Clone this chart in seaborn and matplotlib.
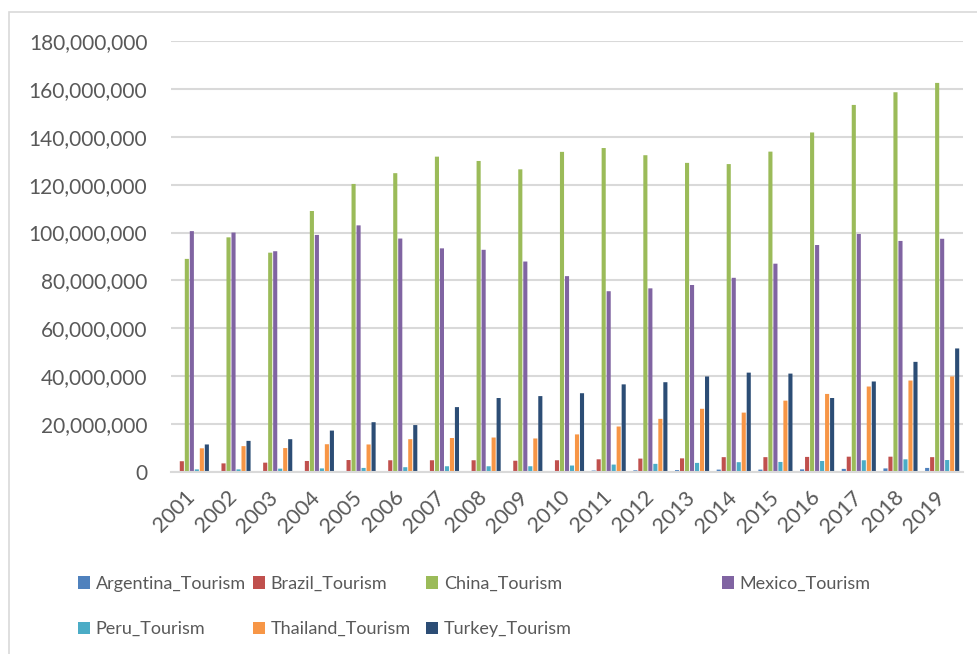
import numpy as np
import pandas as pd
import seaborn as sns
import matplotlib.pyplot as plt
from matplotlib.patches import Rectangle
from matplotlib.ticker import FuncFormatter, MultipleLocator

# Data (millions of arrivals)
years = [str(y) for y in range(2001, 2020)]
argentina = [0.1, 0.1, 0.1, 0.2, 0.3, 0.3, 0.4, 0.4, 0.4, 0.3, 0.6, 0.7, 0.8, 1.0, 1.0, 1.1, 1.3, 1.5, 1.7]
brazil = [4.5, 3.6, 3.9, 4.6, 5.0, 4.9, 4.9, 4.9, 4.7, 4.9, 5.3, 5.6, 5.7, 6.2, 6.2, 6.3, 6.4, 6.4, 6.2]
china = [89.0, 98.0, 91.6, 109.0, 120.3, 124.8, 131.7, 129.9, 126.4, 133.7, 135.3, 132.3, 129.1, 128.6, 133.8, 141.8, 153.3, 158.6, 162.5]
mexico = [100.6, 100.0, 92.2, 99.0, 103.0, 97.5, 93.4, 92.8, 87.9, 81.8, 75.5, 76.7, 78.1, 81.1, 87.0, 94.8, 99.4, 96.5, 97.4]
peru = [1.1, 1.1, 1.4, 1.5, 1.7, 2.0, 2.4, 2.4, 2.4, 2.7, 3.1, 3.4, 3.8, 4.1, 4.2, 4.6, 4.9, 5.3, 5.0]
thailand = [9.9, 10.8, 10.0, 11.6, 11.5, 13.7, 14.2, 14.4, 14.0, 15.7, 19.0, 22.2, 26.4, 24.8, 29.8, 32.6, 35.7, 38.2, 39.9]
turkey = [11.5, 13.0, 13.7, 17.3, 20.8, 19.6, 27.1, 30.9, 31.7, 32.9, 36.6, 37.5, 39.9, 41.5, 41.1, 30.9, 37.8, 46.0, 51.6]

series_names = ["Argentina_Tourism", "Brazil_Tourism", "China_Tourism", "Mexico_Tourism",
                "Peru_Tourism", "Thailand_Tourism", "Turkey_Tourism"]
series_values = [argentina, brazil, china, mexico, peru, thailand, turkey]
colors = ["#4F81BD", "#C0504D", "#9BBB59", "#8064A2", "#4BACC6", "#F79646", "#2C4D75"]

# long format for seaborn
rows = []
for name, vals in zip(series_names, series_values):
    for yr, v in zip(years, vals):
        rows.append({"year": yr, "series": name, "value": v * 1e6})
df = pd.DataFrame(rows)

sns.set_style("white")
plt.rcParams['font.family'] = ['Lato', 'DejaVu Sans']
text_color = "#595959"
grid_color = "#D9D9D9"

fig = plt.figure(figsize=(9.77, 6.54), dpi=100)
ax = fig.add_axes([171 / 977, 1 - 472 / 654, (963 - 171) / 977, (472 - 41) / 654])

sns.barplot(data=df, x="year", y="value", hue="series", order=years, hue_order=series_names,
            palette=dict(zip(series_names, colors)), saturation=1, width=0.84, gap=0.18,
            linewidth=0, ax=ax, legend=False)
# thin bars: no pixel snapping so spacing stays even
for p in ax.patches:
    p.set_snap(False)

ax.set_ylim(0, 180e6)
ax.set_xlim(-0.5, len(years) - 0.5)
ax.yaxis.set_major_locator(MultipleLocator(20e6))
ax.yaxis.set_major_formatter(FuncFormatter(lambda v, p: f"{v:,.0f}"))
ax.set_xlabel("")
ax.set_ylabel("")

ax.yaxis.grid(True, color=grid_color, linewidth=1.5)
ax.set_axisbelow(True)
for side in ["left", "right", "top"]:
    ax.spines[side].set_visible(False)
ax.spines["bottom"].set_color(grid_color)
ax.spines["bottom"].set_linewidth(1.5)

ax.tick_params(axis="y", length=0, pad=17, labelsize=15, labelcolor=text_color)
ax.tick_params(axis="x", length=0, pad=16, labelsize=15.5, labelcolor=text_color)
for lbl in ax.get_xticklabels():
    lbl.set_rotation(45)
    lbl.set_ha("right")
    lbl.set_va("center")
    lbl.set_rotation_mode("anchor")

# legend laid out in Excel style columns
handles = [Rectangle((0, 0), 1, 1, facecolor=c, edgecolor="none") for c in colors]
columns = [([0, 4], 78), ([1, 5], 253), ([2, 6], 426), ([3], 722)]
for idx, xpix in columns:
    leg = fig.legend([handles[i] for i in idx], [series_names[i] for i in idx],
                     loc="upper left", bbox_to_anchor=(xpix / 977, 1 - 576 / 654),
                     frameon=False, fontsize=13, labelcolor=text_color,
                     handlelength=0.68, handleheight=0.68, handletextpad=0.3,
                     labelspacing=1.62, borderpad=0, borderaxespad=0)

# chart area border (only top and left are visible in the crop)
fig.patches.append(Rectangle((8.5 / 977, -0.1), 1.2, 1.1 - 12 / 654, transform=fig.transFigure,
                             facecolor="none", edgecolor=grid_color, linewidth=1.2, clip_on=False))

fig.savefig("out.png", dpi=100)
